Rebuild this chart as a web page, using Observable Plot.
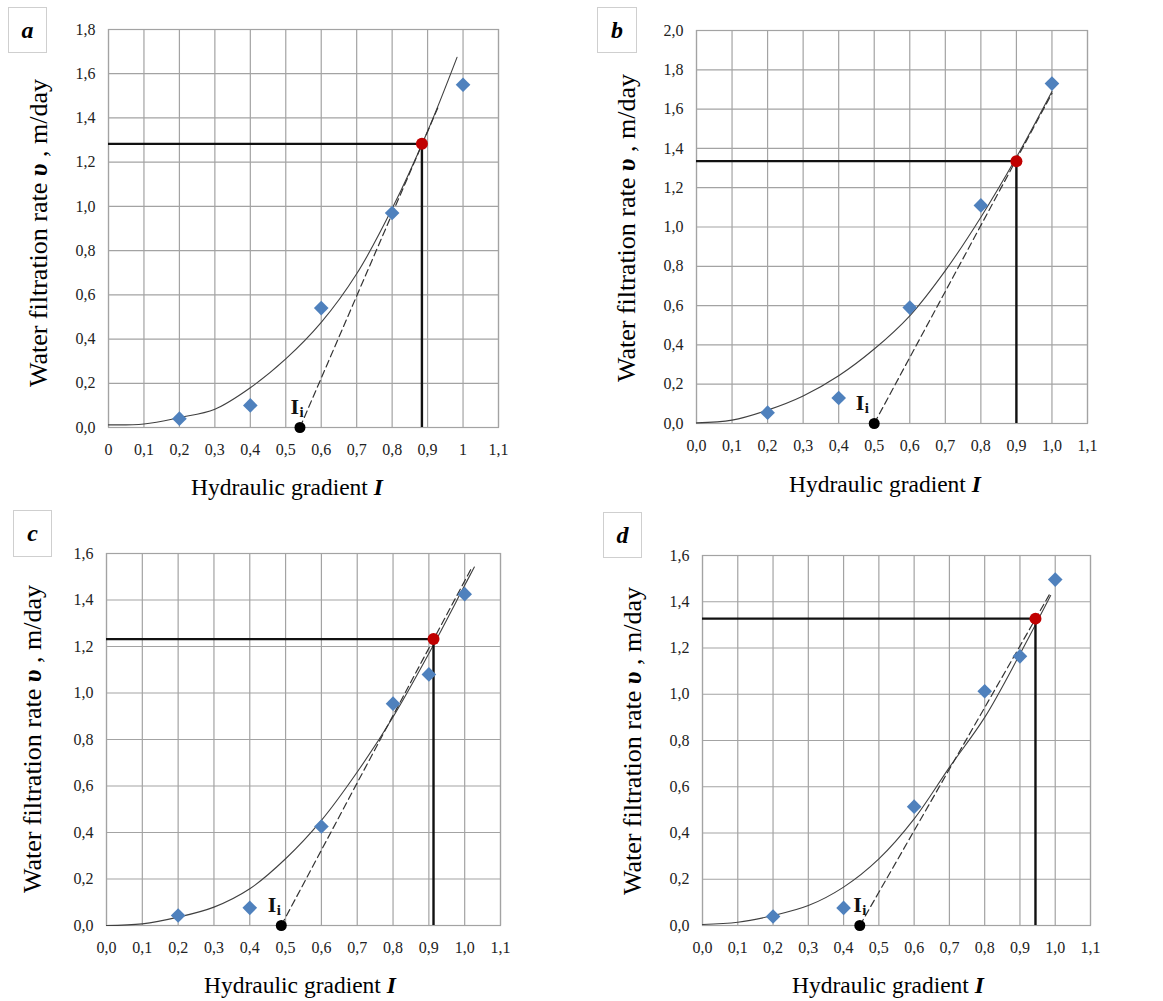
<!DOCTYPE html>
<html>
<head>
<meta charset="utf-8">
<script src="https://cdn.jsdelivr.net/npm/d3@7"></script>
<script src="https://cdn.jsdelivr.net/npm/@observablehq/plot@0.6"></script>
<style>
  html, body { margin: 0; padding: 0; background: #fff; }
  #root { position: relative; width: 1163px; height: 1001px; overflow: hidden; font-family: "Liberation Serif", "Times New Roman", serif; }
  .panel { position: absolute; font-family: "Liberation Serif", serif; }
  .panel text { font-family: "Liberation Serif", serif; }
  .tag { position: absolute; box-sizing: border-box; border: 1px solid #cfcfcf; background: #fff;
         font: italic bold 24px "Liberation Serif", serif; display: flex; align-items: center; justify-content: center; color: #000; }
  .ytitle { position: absolute; white-space: nowrap; font: 26px "Liberation Serif", serif; color: #000;
            transform: translate(-50%, -50%) rotate(-90deg); }
  .xtitle { position: absolute; white-space: nowrap; font: 23.5px "Liberation Serif", serif; color: #000;
            transform: translate(-50%, -50%); }
  .bi { font-weight: bold; font-style: italic; }
</style>
</head>
<body>
<div id="root"></div>
<script>
// ---------- tick values and labels ----------
const xTicks = [0, 0.1, 0.2, 0.3, 0.4, 0.5, 0.6, 0.7, 0.8, 0.9, 1.0, 1.1];
const xLabelsA = ["0", "0,1", "0,2", "0,3", "0,4", "0,5", "0,6", "0,7", "0,8", "0,9", "1", "1,1"];
const xLabels = ["0,0", "0,1", "0,2", "0,3", "0,4", "0,5", "0,6", "0,7", "0,8", "0,9", "1,0", "1,1"];
const yTicks18 = [0, 0.2, 0.4, 0.6, 0.8, 1.0, 1.2, 1.4, 1.6, 1.8];
const yLabels18 = ["0,0", "0,2", "0,4", "0,6", "0,8", "1,0", "1,2", "1,4", "1,6", "1,8"];
const yTicks20 = [0, 0.2, 0.4, 0.6, 0.8, 1.0, 1.2, 1.4, 1.6, 1.8, 2.0];
const yLabels20 = ["0,0", "0,2", "0,4", "0,6", "0,8", "1,0", "1,2", "1,4", "1,6", "1,8", "2,0"];
const yTicks16 = [0, 0.2, 0.4, 0.6, 0.8, 1.0, 1.2, 1.4, 1.6];
const yLabels16 = ["0,0", "0,2", "0,4", "0,6", "0,8", "1,0", "1,2", "1,4", "1,6"];

// ---------- panel a ----------
const measA_I = [0.2, 0.4, 0.6, 0.8, 1.0];
const measA_v = [0.04, 0.10, 0.54, 0.97, 1.55];
const trendA_I = [0, 0.1, 0.2, 0.3, 0.4, 0.5, 0.6, 0.7, 0.8, 0.9, 0.983];
const trendA_v = [0.012, 0.016, 0.045, 0.083, 0.18, 0.31, 0.475, 0.695, 0.99, 1.34, 1.674];
const tangentA_I = [0.54, 0.93];
const tangentA_v = [0, 1.45];
const critA = [0.884, 1.283];   // [I, v] red point
const iiA = 0.54;

// ---------- panel b ----------
const measB_I = [0.2, 0.4, 0.6, 0.8, 1.0];
const measB_v = [0.055, 0.13, 0.59, 1.11, 1.73];
const trendB_I = [0, 0.1, 0.2, 0.3, 0.4, 0.5, 0.6, 0.7, 0.8, 0.9, 1.0];
const trendB_v = [0.003, 0.017, 0.068, 0.14, 0.243, 0.379, 0.548, 0.778, 1.05, 1.355, 1.69];
const tangentB_I = [0.5, 1.0];
const tangentB_v = [0, 1.68];
const critB = [0.9, 1.335];
const iiB = 0.5;

// ---------- panel c ----------
const measC_I = [0.2, 0.4, 0.6, 0.8, 0.9, 1.0];
const measC_v = [0.043, 0.076, 0.426, 0.954, 1.08, 1.425];
const trendC_I = [0, 0.1, 0.2, 0.3, 0.4, 0.5, 0.6, 0.7, 0.8, 0.9, 1.0, 1.027];
const trendC_v = [0, 0.007, 0.036, 0.079, 0.158, 0.287, 0.452, 0.66, 0.897, 1.17, 1.463, 1.542];
const tangentC_I = [0.488, 1.02];
const tangentC_v = [0, 1.54];
const critC = [0.913, 1.232];
const iiC = 0.488;

// ---------- panel d ----------
const measD_I = [0.2, 0.4, 0.6, 0.8, 0.9, 1.0];
const measD_v = [0.039, 0.076, 0.514, 1.013, 1.164, 1.496];
const trendD_I = [0, 0.1, 0.2, 0.3, 0.4, 0.5, 0.6, 0.7, 0.8, 0.9, 0.987];
const trendD_v = [0.004, 0.014, 0.043, 0.086, 0.166, 0.288, 0.461, 0.684, 0.9, 1.174, 1.427];
const tangentD_I = [0.446, 0.985];
const tangentD_v = [0, 1.435];
const critD = [0.944, 1.327];
const iiD = 0.446;

const panelNames = ["a", "b", "c", "d"];

// ---------- layout (pixels) ----------
const layout = {
  a: {left: 0, top: 0, w: 580, h: 500, ml: 108, mr: 82, mt: 29, mb: 73,
      tag: [8, 7, 39, 46], yt: [39, 233], xt: [287, 487], iiDx: -1},
  b: {left: 580, top: 0, w: 583, h: 500, ml: 116, mr: 76, mt: 30, mb: 77,
      tag: [597, 7, 40, 46], yt: [627, 228], xt: [885, 484], iiDx: -10},
  c: {left: 0, top: 500, w: 580, h: 501, ml: 106, mr: 80, mt: 53, mb: 76,
      tag: [13, 510, 39, 47], yt: [33, 739], xt: [300, 985], iiDx: -5},
  d: {left: 580, top: 500, w: 583, h: 501, ml: 122, mr: 73, mt: 55, mb: 76,
      tag: [603, 512, 39, 46], yt: [633, 741], xt: [888, 985], iiDx: 2}
};

const spec = {
  a: {mI: measA_I, mv: measA_v, tI: trendA_I, tv: trendA_v, gI: tangentA_I, gv: tangentA_v, crit: critA, ii: iiA,
      yMax: 1.8, yTicks: yTicks18, yLabels: yLabels18, xLabels: xLabelsA},
  b: {mI: measB_I, mv: measB_v, tI: trendB_I, tv: trendB_v, gI: tangentB_I, gv: tangentB_v, crit: critB, ii: iiB,
      yMax: 2.0, yTicks: yTicks20, yLabels: yLabels20, xLabels: xLabels},
  c: {mI: measC_I, mv: measC_v, tI: trendC_I, tv: trendC_v, gI: tangentC_I, gv: tangentC_v, crit: critC, ii: iiC,
      yMax: 1.6, yTicks: yTicks16, yLabels: yLabels16, xLabels: xLabels},
  d: {mI: measD_I, mv: measD_v, tI: trendD_I, tv: trendD_v, gI: tangentD_I, gv: tangentD_v, crit: critD, ii: iiD,
      yMax: 1.6, yTicks: yTicks16, yLabels: yLabels16, xLabels: xLabels}
};

const root = document.getElementById("root");
const zip = (xs, ys) => xs.map((x, i) => ({I: x, v: ys[i]}));
const serif = "Liberation Serif";

for (const name of panelNames) {
  const L = layout[name], S = spec[name];
  const meas = zip(S.mI, S.mv);
  const trend = zip(S.tI, S.tv);
  const tangent = zip(S.gI, S.gv);
  const crit = [{I: S.crit[0], v: S.crit[1]}];
  const ii = [{I: S.ii, v: 0}];

  const svg = Plot.plot({
    width: L.w, height: L.h,
    marginLeft: L.ml, marginRight: L.mr, marginTop: L.mt, marginBottom: L.mb,
    style: {fontFamily: serif, fontSize: "16px", background: "transparent", overflow: "visible"},
    x: {domain: [0, 1.1]},
    y: {domain: [0, S.yMax]},
    marks: [
      Plot.gridX(xTicks, {stroke: "#a3a3a3", strokeOpacity: 1, strokeWidth: 1.2}),
      Plot.gridY(S.yTicks, {stroke: "#a3a3a3", strokeOpacity: 1, strokeWidth: 1.2}),
      Plot.frame({stroke: "#a3a3a3", strokeWidth: 1.2}),
      Plot.axisX(xTicks, {tickFormat: d => S.xLabels[xTicks.indexOf(d)], tickSize: 0, tickPadding: 16,
                          fontFamily: serif, fontSize: 16, fill: "#222", label: null}),
      Plot.axisY(S.yTicks, {tickFormat: d => S.yLabels[S.yTicks.indexOf(d)], tickSize: 0, tickPadding: 13,
                          fontFamily: serif, fontSize: 16, fill: "#222", label: null}),
      Plot.line(trend, {x: "I", y: "v", curve: "catmull-rom", stroke: "#404040", strokeWidth: 1.1}),
      Plot.line(tangent, {x: "I", y: "v", stroke: "#333", strokeWidth: 1.2, strokeDasharray: "7,4"}),
      Plot.ruleY(crit, {y: "v", x1: () => 0, x2: "I", stroke: "#111", strokeWidth: 2.2}),
      Plot.ruleX(crit, {x: "I", y1: () => 0, y2: "v", stroke: "#111", strokeWidth: 2.4}),
      Plot.dot(meas, {x: "I", y: "v", symbol: "diamond2", r: 6.6, fill: "#4f81bd", stroke: "none"}),
      Plot.dot(crit, {x: "I", y: "v", r: 6, fill: "#c00000", stroke: "none"}),
      Plot.dot(ii, {x: "I", y: "v", r: 5.5, fill: "#000", stroke: "none"}),
      Plot.text(ii, {x: "I", y: "v", text: () => "I", dx: L.iiDx, dy: -21, textAnchor: "end",
                     fontWeight: "bold", fontSize: 22, fill: "#111", fontFamily: serif}),
      Plot.text(ii, {x: "I", y: "v", text: () => "i", dx: L.iiDx + 0.5, dy: -15, textAnchor: "start",
                     fontWeight: "bold", fontSize: 15, fill: "#111", fontFamily: serif})
    ]
  });
  svg.classList.add("panel");
  svg.style.left = L.left + "px";
  svg.style.top = L.top + "px";
  root.appendChild(svg);

  const tag = document.createElement("div");
  tag.className = "tag";
  tag.style.left = L.tag[0] + "px"; tag.style.top = L.tag[1] + "px";
  tag.style.width = L.tag[2] + "px"; tag.style.height = L.tag[3] + "px";
  tag.textContent = name;
  root.appendChild(tag);

  const yt = document.createElement("div");
  yt.className = "ytitle";
  yt.style.left = L.yt[0] + "px"; yt.style.top = L.yt[1] + "px";
  yt.innerHTML = 'Water filtration rate <span class="bi">υ</span> , m/day';
  root.appendChild(yt);

  const xt = document.createElement("div");
  xt.className = "xtitle";
  xt.style.left = L.xt[0] + "px"; xt.style.top = L.xt[1] + "px";
  xt.innerHTML = 'Hydraulic gradient <span class="bi">I</span>';
  root.appendChild(xt);
}
</script>
</body>
</html>
